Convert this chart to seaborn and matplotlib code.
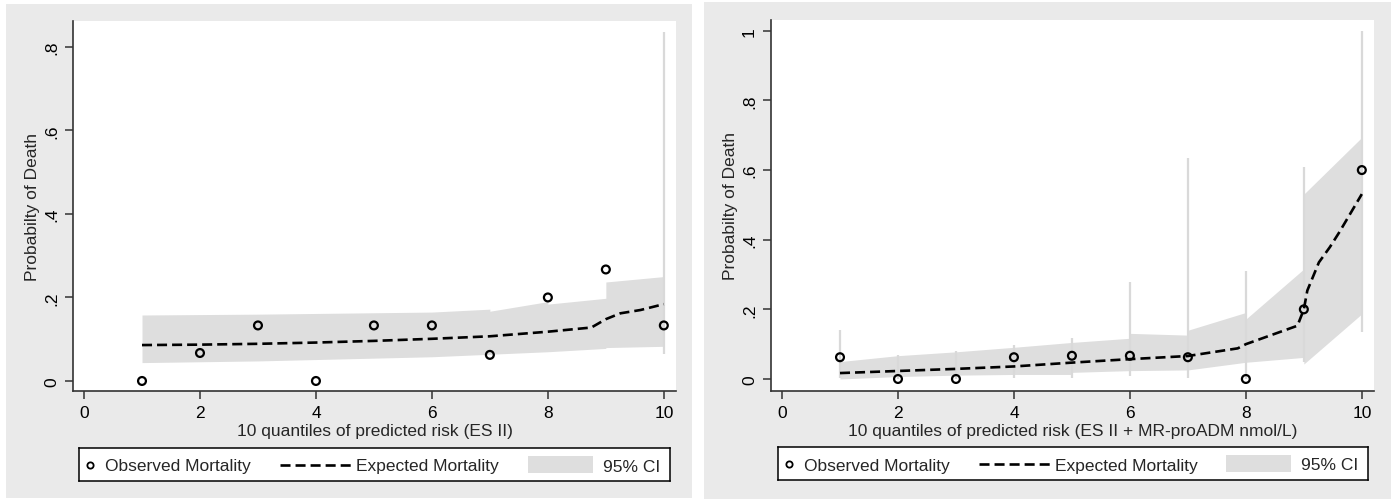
import matplotlib
matplotlib.use("Agg")
import matplotlib.pyplot as plt
from matplotlib.patches import Rectangle
import seaborn as sns

# ---- data -----------------------------------------------------------------
quantiles = [1, 2, 3, 4, 5, 6, 7, 8, 9, 10]
x_ticks = [0, 2, 4, 6, 8, 10]

# Model 1: ES II
obs_es2 = [0.0, 0.067, 0.133, 0.0, 0.133, 0.133, 0.0625, 0.2, 0.267, 0.133]
exp_es2_x = [1, 2, 3, 4, 5, 6, 7, 8, 8.75, 9.0, 9.25, 9.6, 10]
exp_es2_y = [0.086, 0.087, 0.089, 0.092, 0.096, 0.101, 0.107, 0.118, 0.128,
             0.148, 0.162, 0.170, 0.184]
ci_es2_x = [1, 3, 6, 7, 7, 8, 8, 9, 9, 10]
ci_es2_lo = [0.044, 0.048, 0.058, 0.064, 0.064, 0.070, 0.070, 0.078, 0.080, 0.083]
ci_es2_hi = [0.158, 0.160, 0.165, 0.172, 0.167, 0.190, 0.184, 0.198, 0.237, 0.250]
spike_es2_x = [10]
spike_es2_lo = [0.065]
spike_es2_hi = [0.836]
y_ticks_es2 = [0, 0.2, 0.4, 0.6, 0.8]
y_labels_es2 = ["0", ".2", ".4", ".6", ".8"]

# Model 2: ES II + MR-proADM
obs_adm = [0.0625, 0.0, 0.0, 0.0625, 0.0667, 0.0667, 0.0625, 0.0, 0.2, 0.6]
exp_adm_x = [1, 2, 3, 4, 5, 6, 7, 7.86, 8, 8.89, 9.0, 9.06, 9.26, 9.45, 9.61, 10]
exp_adm_y = [0.017, 0.023, 0.029, 0.036, 0.047, 0.057, 0.066, 0.088, 0.100,
             0.153, 0.200, 0.254, 0.335, 0.379, 0.421, 0.531]
ci_adm_x = [1, 2, 3, 4, 5, 5, 6, 6, 7, 7, 8, 8, 9, 9, 10]
ci_adm_lo = [0.000, 0.007, 0.011, 0.013, 0.013, 0.019, 0.024, 0.024, 0.026,
             0.026, 0.048, 0.048, 0.062, 0.043, 0.187]
ci_adm_hi = [0.050, 0.067, 0.078, 0.091, 0.105, 0.105, 0.117, 0.131, 0.126,
             0.140, 0.191, 0.172, 0.316, 0.531, 0.694]
spike_adm_x = quantiles
spike_adm_lo = [0.002, 0.0, 0.0, 0.002, 0.002, 0.010, 0.003, 0.0, 0.05, 0.134]
spike_adm_hi = [0.140, 0.069, 0.079, 0.098, 0.117, 0.279, 0.634, 0.311, 0.610, 1.0]
y_ticks_adm = [0, 0.2, 0.4, 0.6, 0.8, 1.0]
y_labels_adm = ["0", ".2", ".4", ".6", ".8", "1"]

xlabel_es2 = "10 quantiles of predicted risk (ES II)"
xlabel_adm = "10 quantiles of predicted risk (ES II + MR-proADM nmol/L)"
ylabel = "Probabilty of Death"
key_labels = ["Observed Mortality", "Expected Mortality", "95% CI"]

# ---- style ----------------------------------------------------------------
sns.set_style("ticks")
plt.rcParams["font.family"] = ["Liberation Sans", "DejaVu Sans"]

W, H = 1391, 502
FS = 12.5
PANEL_BG = "#eaeaea"
BAND = "#dedede"
SPIKE = "#d9d9d9"
AXIS = "#333333"
DASH_LW = 1.9
DASH = (0, (3.8, 1.9))

fig = plt.figure(figsize=(W / 100, H / 100), dpi=100, facecolor="white")


def frect(x0, y0, x1, y1):
    """Figure-fraction rectangle from pixel edges (y measured from the top)."""
    return [x0 / W, 1 - y1 / H, (x1 - x0) / W, (y1 - y0) / H]


for x0, y0, x1, y1 in [(6, 5, 692, 499), (704, 3, 1391, 500)]:
    l, b, w, h = frect(x0, y0, x1, y1)
    fig.patches.append(Rectangle((l, b), w, h, transform=fig.transFigure,
                                 facecolor=PANEL_BG, edgecolor="none", zorder=-10))


def draw_panel(ax, obs, ex, ey, cx, clo, chi, sx, slo, shi,
               ylim, yticks, ylabels, xlabel):
    ax.set_facecolor("white")
    ax.fill_between(cx, clo, chi, color=BAND, lw=0, zorder=1)
    ax.vlines(sx, slo, shi, color=SPIKE, lw=1.6, zorder=1.5)
    sns.lineplot(x=ex, y=ey, ax=ax, color="black", lw=DASH_LW, ls=DASH,
                 sort=False, zorder=3)
    sns.scatterplot(x=quantiles, y=obs, ax=ax, marker="o", s=32,
                    edgecolor="black", linewidth=1.6, zorder=4)
    ax.collections[-1].set_facecolor("none")

    ax.set_xlim(-0.19, 10.21)
    ax.set_ylim(*ylim)
    ax.set_xticks(x_ticks)
    ax.set_xticklabels([str(t) for t in x_ticks])
    ax.set_yticks(yticks)
    ax.set_yticklabels(ylabels, rotation=90, va="center")
    ax.tick_params(direction="out", length=6, width=1.1, color=AXIS,
                   labelsize=FS, pad=4, labelcolor="black")
    for side in ("top", "right"):
        ax.spines[side].set_visible(False)
    for side in ("left", "bottom"):
        ax.spines[side].set_color(AXIS)
        ax.spines[side].set_linewidth(1.2)
    ax.set_xlabel(xlabel, fontsize=FS, labelpad=2)
    ax.set_ylabel(ylabel, fontsize=FS, labelpad=3)
    ax.grid(False)


def draw_key(kax):
    kax.set_xlim(0, 591)
    kax.set_ylim(0, 33)
    kax.set_xticks([])
    kax.set_yticks([])
    kax.set_facecolor("white")
    for s in kax.spines.values():
        s.set_color("black")
        s.set_linewidth(1.1)
    yc = 16.5
    kax.plot([11], [yc], marker="o", ms=4.5, mfc="none", mec="black", mew=1.3)
    kax.text(26, yc, key_labels[0], va="center_baseline", ha="left", fontsize=FS)
    kax.plot([201, 273], [yc, yc], color="black", lw=DASH_LW, ls=DASH)
    kax.text(277, yc, key_labels[1], va="center_baseline", ha="left", fontsize=FS)
    kax.add_patch(Rectangle((449, 8), 65, 17, facecolor=BAND, edgecolor="none"))
    kax.text(524, yc, key_labels[2], va="center_baseline", ha="left", fontsize=FS)


ax1 = fig.add_axes(frect(73, 22, 676, 392))
draw_panel(ax1, obs_es2, exp_es2_x, exp_es2_y, ci_es2_x, ci_es2_lo, ci_es2_hi,
           spike_es2_x, spike_es2_lo, spike_es2_hi,
           (-0.024, 0.862), y_ticks_es2, y_labels_es2, xlabel_es2)

ax2 = fig.add_axes(frect(771, 21, 1374, 392))
draw_panel(ax2, obs_adm, exp_adm_x, exp_adm_y, ci_adm_x, ci_adm_lo, ci_adm_hi,
           spike_adm_x, spike_adm_lo, spike_adm_hi,
           (-0.0345, 1.031), y_ticks_adm, y_labels_adm, xlabel_adm)

draw_key(fig.add_axes(frect(79, 449, 670, 482)))
draw_key(fig.add_axes(frect(778, 448, 1368, 481)))

fig.savefig("out.png", dpi=100, facecolor="white")
